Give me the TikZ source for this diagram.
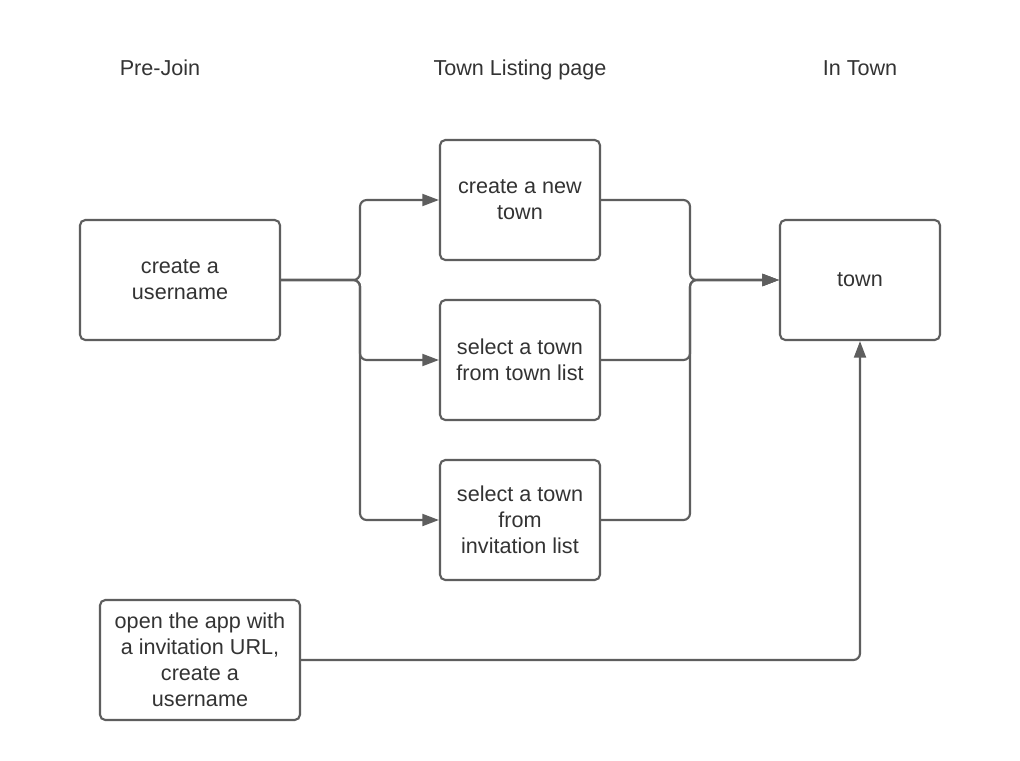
\documentclass[tikz,border=0pt]{standalone}
\usepackage{fontspec}
\setmainfont{Liberation Sans}
\usetikzlibrary{arrows.meta}
\definecolor{edge}{HTML}{5E5E5E}
\definecolor{txt}{HTML}{333333}
\begin{document}
\begin{tikzpicture}[x=0.75pt,y=-0.75pt,
  box/.style={draw=edge,line width=1.6pt,rounded corners=4pt,align=center,
    text=txt,font=\fontsize{16.2}{19.5}\selectfont,inner sep=0pt},
  wide/.style={box,minimum width=150pt,minimum height=90pt},
  narrow/.style={box,minimum width=120pt,minimum height=90pt},
  title/.style={text=txt,font=\fontsize{16.2}{19.5}\selectfont,inner sep=0pt,
    text height=11.6pt,text depth=3.4pt},
  conn/.style={draw=edge,line width=1.6pt,rounded corners=5pt,
    -{Triangle[length=12.5pt,width=9pt]}}]
\useasboundingbox (0,0) rectangle (1020,760);
\fill[white] (0,0) rectangle (1020,760);
\node[title] (h1) at (160,70) {Pre-Join};
\node[title] (h2) at (520,70) {Town Listing page};
\node[title] (h3) at (860,70) {In Town};
\node[wide] (u) at (180,280) {create a\\username};
\node[narrow] (t1) at (520,200) {create a new\\town};
\node[narrow] (t2) at (520,360) {select a town\\from town list};
\node[narrow] (t3) at (520,520) {select a town\\from\\invitation list};
\node[narrow] (tw) at (860,280) {town};
\node[wide] (o) at (200,660) {open the app with\\a invitation URL,\\create a\\username};
\coordinate (jl) at (360,280);
\coordinate (jr) at (690,280);
\draw[conn] (u.east) -- (jl) |- (t1.west);
\draw[conn] (u.east) -- (jl) |- (t2.west);
\draw[conn] (u.east) -- (jl) |- (t3.west);
\draw[conn] (t1.east) -| (jr) -- (tw.west);
\draw[conn] (t2.east) -| (jr) -- (tw.west);
\draw[conn] (t3.east) -| (jr) -- (tw.west);
\draw[conn] (o.east) -| (tw.south);
\end{tikzpicture}
\end{document}
